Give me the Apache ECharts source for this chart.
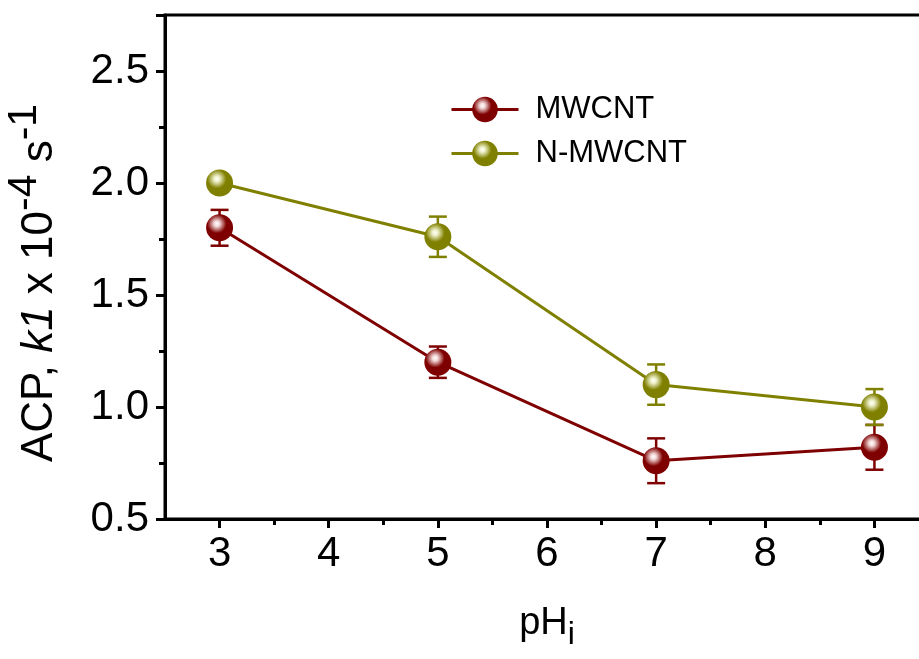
<!DOCTYPE html>
<html><head><meta charset="utf-8">
<script src="https://cdn.jsdelivr.net/npm/echarts@6/dist/echarts.min.js"></script>
<style>html,body{margin:0;padding:0;background:#fff;overflow:hidden;width:919px;height:659px}#c{width:940px;height:659px}</style>
</head><body><div id="c"></div>
<script>
var phValues = [3, 5, 7, 9];
var mwcnt = [1.80, 1.20, 0.76, 0.82];
var mwcntErr = [0.08, 0.07, 0.10, 0.10];
var nmwcnt = [2.00, 1.76, 1.10, 1.00];
var nmwcntErr = [0.04, 0.09, 0.09, 0.08];
var seriesNames = ['MWCNT', 'N-MWCNT'];
var xMajorTicks = [3, 4, 5, 6, 7, 8, 9];
var xMinorTicks = [3.5, 4.5, 5.5, 6.5, 7.5, 8.5];
var colors = ['#7f0000', '#808000'];
var highlights = ['#f2d6d6', '#eef0c8'];

function ball(i){
  return {type:'radial', x:0.4, y:0.35, r:0.7, colorStops:[
    {offset:0, color:'#ffffff'}, {offset:0.15, color:highlights[i]},
    {offset:0.5, color:colors[i]}, {offset:1, color:colors[i]}]};
}
function pts(vals){ return phValues.map(function(x,k){return [x, vals[k]];}); }
function errData(vals, errs){ return phValues.map(function(x,k){return [x, vals[k]-errs[k], vals[k]+errs[k]];}); }
function errSeries(vals, errs, i){
  return {type:'custom', z:1, silent:true, data:errData(vals, errs),
    renderItem:function(params, api){
      var x = api.value(0);
      var lo = api.coord([x, api.value(1)]);
      var hi = api.coord([x, api.value(2)]);
      var w = 9;
      var st = {stroke:colors[i], lineWidth:2.5};
      return {type:'group', children:[
        {type:'line', shape:{x1:lo[0], y1:lo[1], x2:hi[0], y2:hi[1]}, style:st},
        {type:'line', shape:{x1:lo[0]-w, y1:lo[1], x2:lo[0]+w, y2:lo[1]}, style:st},
        {type:'line', shape:{x1:hi[0]-w, y1:hi[1], x2:hi[0]+w, y2:hi[1]}, style:st}
      ]};
    }};
}
function lineSeries(vals, i){
  return {type:'line', name:seriesNames[i], z:3, data:pts(vals), symbol:'circle', symbolSize:27,
    lineStyle:{color:colors[i], width:3}, itemStyle:{color:ball(i), borderWidth:0}};
}
var FONT = 'Liberation Sans, Arial, sans-serif';
var chart = echarts.init(document.getElementById('c'));
chart.setOption({
  animation:false,
  textStyle:{fontFamily:FONT},
  grid:{left:165, top:15, width:764, height:504, show:true, borderColor:'#000', borderWidth:3},
  legend:{left:445, top:89, orient:'vertical', itemWidth:67, itemHeight:32, itemGap:13,
    lineStyle:{width:3},
    data:seriesNames, textStyle:{fontSize:31, color:'#000', fontFamily:FONT, padding:[0,0,0,12]}},
  graphic:[{type:'text', x:40, y:283, rotation:Math.PI/2, silent:true,
    style:{text:'ACP, {i|k1} x 10{p|-4} s{p|-1}', font:'44px ' + FONT, fill:'#000',
      textAlign:'center', textVerticalAlign:'middle',
      rich:{i:{fontSize:44, fontStyle:'italic', fontFamily:FONT, fill:'#000'},
            p:{fontSize:41, fontFamily:FONT, fill:'#000', padding:[0,0,30,0]}}}}],
  xAxis:[{type:'value', min:2.5, max:9.5,
    name:'pH{s|i}', nameLocation:'middle', nameGap:78,
    nameTextStyle:{fontSize:38, color:'#000', rich:{s:{fontSize:32, padding:[22,0,0,0], color:'#000'}}},
    axisLine:{lineStyle:{color:'#000', width:3}},
    axisTick:{show:true, length:9, customValues:xMajorTicks, lineStyle:{width:3, color:'#000'}},
    splitLine:{show:false},
    axisLabel:{fontSize:42, color:'#000', margin:14, customValues:xMajorTicks}},
   {type:'value', min:2.5, max:9.5, position:'bottom',
    axisLine:{show:false},
    axisTick:{show:true, length:6, customValues:xMinorTicks, lineStyle:{width:3, color:'#000'}},
    splitLine:{show:false}, axisLabel:{show:false}}],
  yAxis:{type:'value', min:0.5, max:2.75, interval:0.5,
    axisLine:{lineStyle:{color:'#000', width:3}},
    axisTick:{show:true, length:9, lineStyle:{width:3, color:'#000'}},
    minorTick:{show:true, splitNumber:2, length:6, lineStyle:{width:3, color:'#000'}},
    splitLine:{show:false},
    axisLabel:{fontSize:42, color:'#000', margin:16, showMaxLabel:false,
      formatter:function(v){ return v.toFixed(1); }}},
  series:[
    errSeries(mwcnt, mwcntErr, 0),
    errSeries(nmwcnt, nmwcntErr, 1),
    lineSeries(mwcnt, 0),
    lineSeries(nmwcnt, 1)
  ]
});
</script></body></html>
